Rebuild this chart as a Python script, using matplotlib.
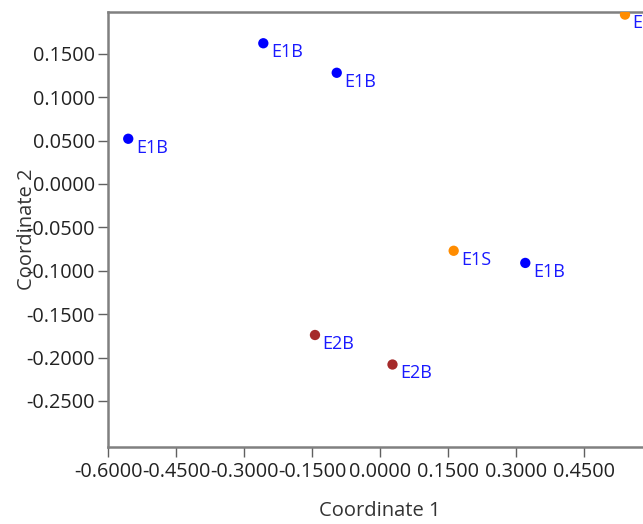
import matplotlib
matplotlib.use("Agg")
import matplotlib.pyplot as plt
from matplotlib.ticker import FormatStrFormatter

# values
coord1 = [-0.258, -0.096, -0.556, 0.540, 0.162, 0.320, -0.144, 0.027]
coord2 = [0.162, 0.128, 0.052, 0.195, -0.077, -0.091, -0.174, -0.208]
labels = ["E1B", "E1B", "E1B", "E1S", "E1S", "E1B", "E2B", "E2B"]

x_ticks = [-0.60, -0.45, -0.30, -0.15, 0.0, 0.15, 0.30, 0.45]
y_ticks = [-0.25, -0.20, -0.15, -0.10, -0.05, 0.0, 0.05, 0.10, 0.15]

group_colors = {"E1B": "#0000ff", "E1S": "#ff8c00", "E2B": "#a52a2a"}

plt.rcParams["font.family"] = ["Open Sans", "DejaVu Sans"]
plt.rcParams["axes.unicode_minus"] = False

W, H = 643, 524
fig = plt.figure(figsize=(W / 100, H / 100), dpi=100)
left, right, top, bottom = 108.3, 652.2, 12, 447
ax = fig.add_axes([left / W, (H - bottom) / H, (right - left) / W, (bottom - top) / H])

colors = [group_colors[g] for g in labels]
ax.scatter(coord1, coord2, s=55, c=colors, zorder=3, linewidths=0)

for x, y, lab in zip(coord1, coord2, labels):
    ax.annotate(lab, (x, y), xytext=(5.5, -10.0), textcoords="offset points",
                color="#1a1aff", fontsize=13, va="baseline", ha="left",
                annotation_clip=False, clip_on=False)

ax.set_xlim(-0.6, 0.6)
ax.set_ylim(-0.303, 0.198)
ax.set_xticks(x_ticks)
ax.set_yticks(y_ticks)
ax.xaxis.set_major_formatter(FormatStrFormatter("%.4f"))
ax.yaxis.set_major_formatter(FormatStrFormatter("%.4f"))

ax.spines["right"].set_visible(False)
for side in ["left", "bottom", "top"]:
    ax.spines[side].set_color("#808080")
    ax.spines[side].set_linewidth(1.8)

ax.tick_params(axis="both", direction="out", length=7.5, width=1.0,
               color="#606060", labelsize=14.3, labelcolor="#222222")
ax.tick_params(axis="x", pad=3)
ax.tick_params(axis="y", pad=2)

ax.set_xlabel("Coordinate 1", fontsize=14.5, color="#333333")
ax.set_ylabel("Coordinate 2", fontsize=14.5, color="#333333")
ax.xaxis.set_label_coords((380 - left) / (right - left), (bottom - 511) / (bottom - top))
ax.yaxis.set_label_coords((27 - left) / (right - left), 0.5)
ax.xaxis.label.set_va("center")
ax.yaxis.label.set_va("center")

fig.savefig("out.png", dpi=100)
